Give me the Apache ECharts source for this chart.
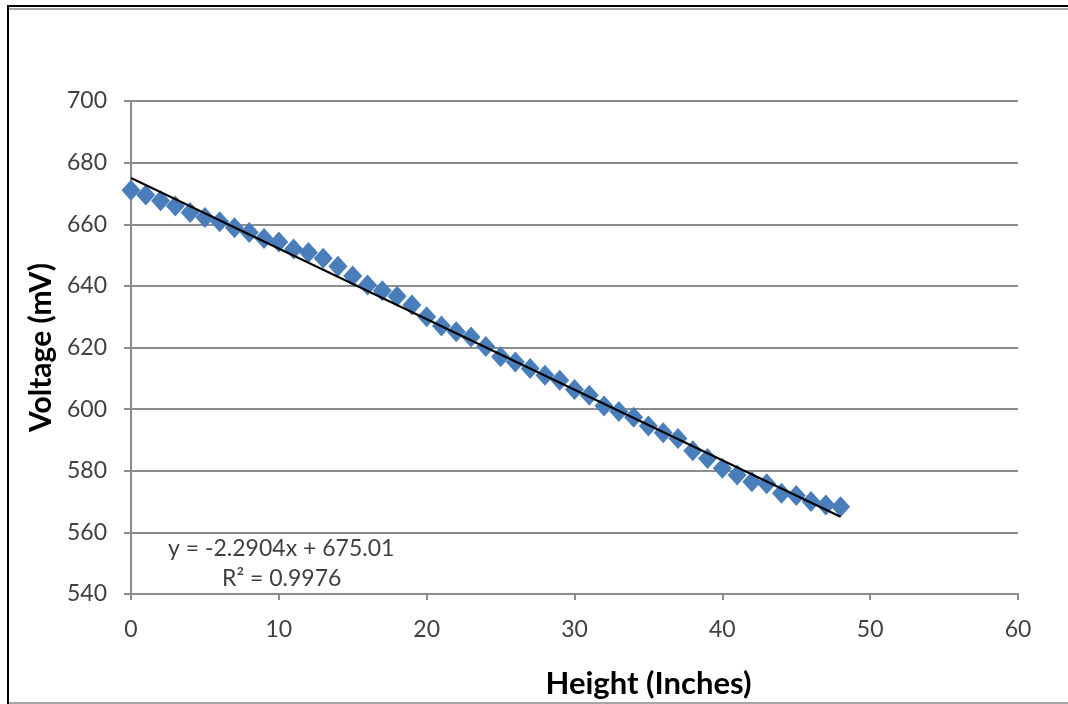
<!DOCTYPE html>
<html>
<head>
<meta charset="utf-8">
<script src="https://cdn.jsdelivr.net/npm/echarts@6/dist/echarts.min.js"></script>
<style>
html,body{margin:0;padding:0;background:#fff;}
#chart{width:1068px;height:704px;}
</style>
</head>
<body>
<div id="chart"></div>
<script>
const heights = [0,1,2,3,4,5,6,7,8,9,10,11,12,13,14,15,16,17,18,19,20,21,22,23,24,25,26,27,28,29,30,31,32,33,34,35,36,37,38,39,40,41,42,43,44,45,46,47,48];
const voltages = [671,669.5,667.6,665.9,663.8,662.2,660.8,658.9,657.3,655.4,654.2,652,650.8,649,646.4,643.2,640.3,638.4,636.6,633.8,630,627,625.1,623.4,620.3,617,615.3,613.2,611,609.4,606.4,604.5,601,599.2,597.4,594.5,592.3,590.5,586.5,584,580.8,578.6,576.4,575.8,572.7,572,570,568.9,568.3];
const trendX = [0, 48];
const trendY = [675.01, 565.07];
const equationText = 'y = -2.2904x + 675.01';
const r2Text = 'R² = 0.9976';
const xTicks = [0,10,20,30,40,50,60];
const yTicks = [540,560,580,600,620,640,660,680,700];

const FONT = 'Lato, "Open Sans", sans-serif';
const chart = echarts.init(document.getElementById('chart'), null, {renderer:'canvas'});
chart.setOption({
  animation:false,
  backgroundColor:'#fff',
  grid:{left:131, right:50, top:101, bottom:110, containLabel:false},
  xAxis:{
    type:'value', min:xTicks[0], max:xTicks[xTicks.length-1], interval:10,
    name:'Height (Inches)', nameLocation:'middle', nameGap:74,
    nameTextStyle:{fontFamily:FONT, fontSize:31, fontWeight:'bold', color:'#000', padding:[0,0,0,148]},
    axisLine:{show:true, lineStyle:{color:'#8c8c8c', width:2}},
    axisTick:{show:true, inside:false, length:6, lineStyle:{color:'#8c8c8c', width:2}},
    axisLabel:{fontFamily:FONT, fontSize:23, color:'#404040', margin:24},
    splitLine:{show:false}
  },
  yAxis:{
    type:'value', min:yTicks[0], max:yTicks[yTicks.length-1], interval:20,
    name:'Voltage (mV)', nameLocation:'middle', nameGap:74, nameRotate:90,
    nameTextStyle:{fontFamily:FONT, fontSize:30, fontWeight:'bold', color:'#000'},
    axisLine:{show:true, onZero:false, lineStyle:{color:'#8c8c8c', width:2}},
    axisTick:{show:true, inside:false, length:7, lineStyle:{color:'#8c8c8c', width:2}},
    axisLabel:{fontFamily:FONT, fontSize:23, color:'#404040', margin:24},
    splitLine:{show:true, lineStyle:{color:'#8c8c8c', width:2}}
  },
  series:[
    {
      type:'scatter',
      data:heights.map((h,i)=>[h, voltages[i]]),
      symbol:'diamond', symbolSize:[19,21],
      itemStyle:{color:'#4A7EBB', opacity:1},
      z:2
    },
    {
      type:'line',
      data:trendX.map((x,i)=>[x, trendY[i]]),
      showSymbol:false, symbol:'none',
      lineStyle:{color:'#000', width:2},
      z:3
    }
  ],
  graphic:[
    {type:'rect', shape:{x:8, y:5, width:1070, height:2}, style:{fill:'#000'}},
    {type:'rect', shape:{x:8, y:8, width:1070, height:2}, style:{fill:'#a6a6a6'}},
    {type:'rect', shape:{x:7, y:5, width:2, height:700}, style:{fill:'#000'}},
    {type:'rect', shape:{x:9, y:702, width:1070, height:2}, style:{fill:'#a6a6a6'}},
    {type:'text', left:168, top:537, style:{text:equationText, font:'23px '+FONT, fill:'#404040'}},
    {type:'text', left:222, top:567, style:{text:r2Text, font:'23px '+FONT, fill:'#404040'}}
  ]
});
</script>
</body>
</html>
